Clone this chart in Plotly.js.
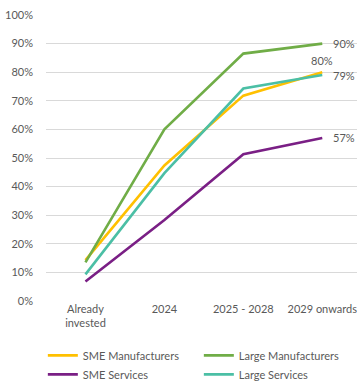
<!DOCTYPE html>
<html>
<head>
<meta charset="utf-8">
<script src="https://cdn.plot.ly/plotly-3.0.1.min.js"></script>
<style>html,body{margin:0;padding:0;background:#fff;}#chart{width:357px;height:383px;}</style>
</head>
<body>
<div id="chart"></div>
<script>
const categories = ["Already<br>invested", "2024", "2025 - 2028", "2029 onwards"];
const smeManufacturers = [0.143, 0.474, 0.718, 0.80];
const largeManufacturers = [0.135, 0.60, 0.865, 0.90];
const smeServices = [0.068, 0.283, 0.513, 0.57];
const largeServices = [0.093, 0.447, 0.743, 0.79];
const yTicks = [0, 0.1, 0.2, 0.3, 0.4, 0.5, 0.6, 0.7, 0.8, 0.9, 1.0];

const FONT = "Lato, 'Open Sans', sans-serif";
function mk(name, vals, color) {
  return {
    type: "scatter", mode: "lines", name: name,
    x: categories, y: vals,
    line: {color: color, width: 2.6},
    hoverinfo: "skip"
  };
}
function endNote(vals, above) {
  const i = vals.length - 1;
  const base = {
    x: categories[i], y: vals[i], xref: "x", yref: "y",
    text: Math.round(vals[i] * 100) + "%", showarrow: false,
    font: {family: FONT, size: 11, color: "#595959"}
  };
  if (above) return Object.assign(base, {xanchor: "center", yanchor: "bottom", yshift: 3});
  return Object.assign(base, {xanchor: "left", yanchor: "middle", xshift: 9});
}
const data = [
  mk("SME Manufacturers", smeManufacturers, "#FFC000"),
  mk("Large Manufacturers", largeManufacturers, "#70AD47"),
  mk("SME Services", smeServices, "#7A1F85"),
  mk("Large Services", largeServices, "#4BBFA5")
];
const layout = {
  width: 357, height: 383,
  margin: {l: 46, r: 0, t: 15, b: 82},
  paper_bgcolor: "#fff", plot_bgcolor: "#fff",
  font: {family: FONT, size: 11, color: "#595959"},
  showlegend: true,
  legend: {
    orientation: "h", xref: "container", yref: "container",
    x: 0.12, xanchor: "left", y: 0.11, yanchor: "top",
    entrywidth: 111, entrywidthmode: "pixels", itemwidth: 30,
    font: {family: FONT, size: 11, color: "#595959"}, traceorder: "normal"
  },
  annotations: [
    endNote(largeManufacturers, false),
    endNote(smeManufacturers, true),
    endNote(largeServices, false),
    endNote(smeServices, false)
  ],
  xaxis: {
    type: "category", range: [-0.5, 3.44], showgrid: false, zeroline: false,
    showline: false, ticks: "", tickfont: {size: 11, color: "#595959"}, fixedrange: true,
    automargin: false
  },
  yaxis: {
    range: [0, 1.0], tickvals: yTicks, tickformat: ".0%", showgrid: true,
    gridcolor: "#D9D9D9", gridwidth: 1, zeroline: false, showline: false,
    ticks: "", ticklabelstandoff: 12, tickfont: {size: 11, color: "#595959"}, fixedrange: true,
    automargin: false
  }
};
Plotly.newPlot("chart", data, layout, {displayModeBar: false, staticPlot: true});
</script>
</body>
</html>
